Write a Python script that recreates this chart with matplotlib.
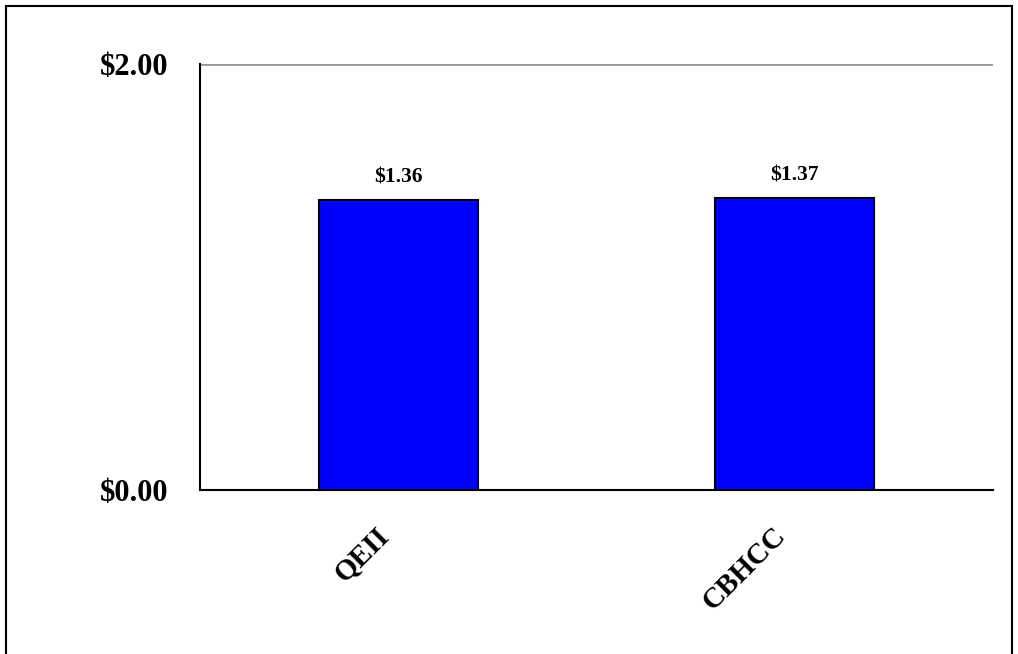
import numpy as np
import matplotlib.pyplot as plt
import matplotlib.transforms as mtransforms
from matplotlib.patches import Rectangle

categorias = ['QEII', 'CBHCC']
valores = [1.36, 1.37]
etiquetas = ['$1.36', '$1.37']

plt.rcParams['font.family'] = ['Liberation Serif', 'DejaVu Serif']

fig = plt.figure(figsize=(10.18, 6.54), dpi=100)
ax = fig.add_axes([0.1965, 0.2508, 0.7789, 0.6513])

x = np.arange(len(categorias))
barras = ax.bar(x, valores, width=0.4, color='#0000FF', edgecolor='black', linewidth=1.5, zorder=3)

# Etiquetas sobre las barras
for b, txt in zip(barras, etiquetas):
    ax.annotate(txt, (b.get_x() + b.get_width() / 2, b.get_height()),
                xytext=(0, 9), textcoords='offset points',
                ha='center', va='bottom', fontsize=15.5, fontweight='bold')

ax.set_xlim(-0.5, 1.5)
ax.set_ylim(0, 2)
ax.set_yticks([0, 2])
ax.set_yticklabels(['$0.00', '$2.00'], fontsize=22, fontweight='bold')
ax.set_xticks(x)
ax.set_xticklabels(categorias, rotation=45, ha='right', va='top', rotation_mode='anchor',
                   fontsize=21, fontweight='bold')
ax.tick_params(axis='both', length=0)
ax.tick_params(axis='x', pad=23)
ax.tick_params(axis='y', pad=22.5)

# mover las etiquetas del eje x a la izquierda
desplaza = mtransforms.ScaledTranslation(-23 / 100, 0, fig.dpi_scale_trans)
for lbl in ax.get_xticklabels():
    lbl.set_transform(lbl.get_transform() + desplaza)

ax.axhline(2, color='#999999', linewidth=2, zorder=1)
ax.spines['top'].set_visible(False)
ax.spines['right'].set_visible(False)
ax.spines['left'].set_linewidth(1.5)
ax.spines['bottom'].set_linewidth(1.5)

# Marco de la figura
fig.patches.append(Rectangle((6 / 1018, -0.05), 1006 / 1018, 1.05 - 6 / 654,
                             transform=fig.transFigure, fill=False,
                             edgecolor='black', linewidth=1.5))

fig.savefig('out.png', dpi=100)
